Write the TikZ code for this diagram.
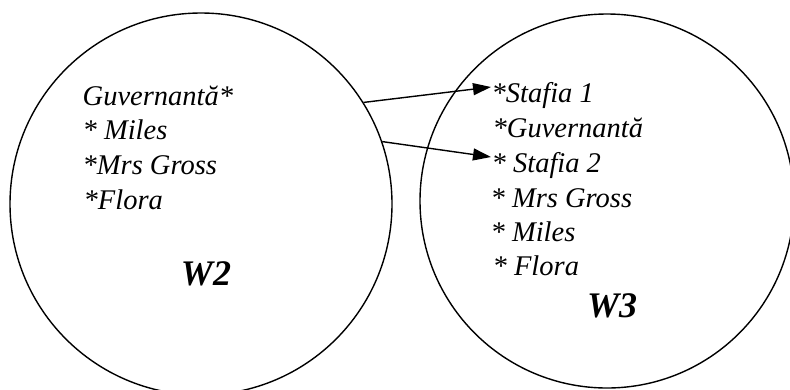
\documentclass[tikz,border=0pt]{standalone}
\usepackage{fontspec}
\setmainfont{Liberation Serif}
\usetikzlibrary{arrows.meta}
\begin{document}
\begin{tikzpicture}[x=1pt,y=-1pt,line width=1.4pt,
    world/.style={draw,circle,inner sep=0pt},
    item/.style={anchor=base west,inner sep=0pt,text height=30pt,text depth=0pt,font=\fontsize{28.5}{33}\selectfont\itshape},
    wname/.style={anchor=base,inner sep=0pt,font=\fontsize{36}{42}\selectfont\bfseries\itshape}]
    \useasboundingbox (0,0) rectangle (790,389);
    % the two worlds
    \node [world,minimum size=382pt] (w2) at (201,204) {};
    \node [world,minimum size=374pt] (w3) at (607,201) {};
    % W2
    \node [item] (g2) at (82,105) {Guvernantă*};
    \node [item] (m2) at (82,139) {* Miles};
    \node [item] (r2) at (82,174) {*Mrs Gross};
    \node [item] (f2) at (83,209) {*Flora};
    \node [wname] (n2) at (206,285) {W2};
    % W3
    \node [item] (s1) at (491,102) {*Stafia 1};
    \node [item] (g3) at (492,137) {*Guvernantă};
    \node [item] (s2) at (491,172) {* Stafia 2};
    \node [item] (r3) at (490,207) {* Mrs Gross};
    \node [item] (m3) at (490,241) {* Miles};
    \node [item] (f3) at (492,275) {* Flora};
    \node [wname] (n3) at (612,317) {W3};
    % arrows
    \draw [-{Triangle[length=18pt,width=12pt]}] (w2.32) -- (s1.west);
    \draw [-{Triangle[length=18pt,width=12pt]}] (w2.19) -- (s2.west);
\end{tikzpicture}
\end{document}
